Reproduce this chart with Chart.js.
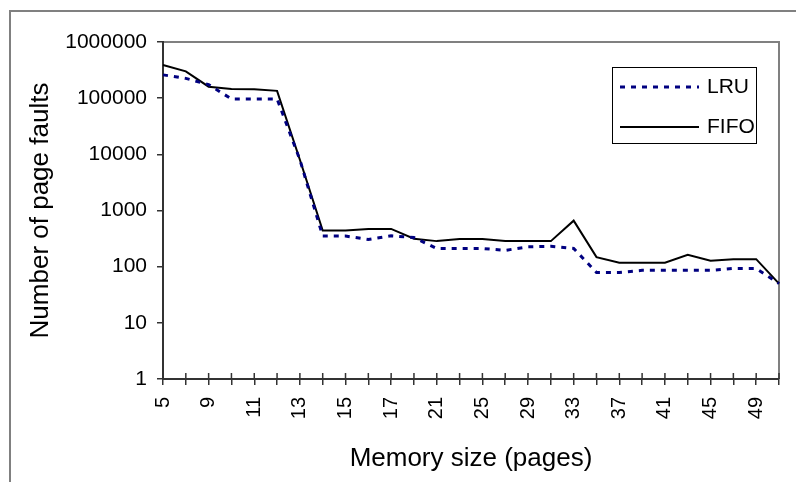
<!DOCTYPE html>
<html>
<head>
<meta charset="utf-8">
<script src="https://cdn.jsdelivr.net/npm/chart.js@4.4.0/dist/chart.umd.min.js"></script>
<style>
  html, body { margin: 0; padding: 0; background: #fff; overflow: hidden; }
  canvas { display: block; }
</style>
</head>
<body>
<canvas id="faultsChart" width="796" height="482"></canvas>
<script>
// memory sizes (pages), only every other one gets a label
const memorySizes = [5, 7, 9, 10, 11, 12, 13, 14, 15, 16, 17, 19, 21, 23, 25, 27, 29, 31, 33, 35, 37, 39, 41, 43, 45, 47, 49, 50];

const lruFaults = [260000, 225000, 174000, 97000, 97000, 97000, 8000, 350, 350, 305, 355, 330, 211, 211, 211, 195, 226, 230, 211, 79, 79, 86, 86, 86, 86, 93, 93, 50];
const fifoFaults = [390000, 300000, 160000, 146000, 144000, 135000, 8000, 440, 440, 470, 470, 315, 285, 310, 310, 285, 285, 285, 660, 148, 118, 118, 118, 163, 127, 136, 136, 50];

const yTicks = [1, 10, 100, 1000, 10000, 100000, 1000000];

const fontFamily = "'Liberation Sans', Arial, sans-serif";

// outer frame + grey top/right edge of the plot area
const frame = {
  id: "frame",
  beforeDraw(chart) {
    const ctx = chart.ctx;
    const a = chart.chartArea;
    ctx.save();
    ctx.strokeStyle = "#808080";
    ctx.lineWidth = 2;
    ctx.beginPath();
    ctx.moveTo(10, chart.height + 5);
    ctx.lineTo(10, 11);
    ctx.lineTo(chart.width + 5, 11);
    ctx.stroke();

    ctx.beginPath();
    ctx.moveTo(a.left, a.top);
    ctx.lineTo(a.right, a.top);
    ctx.lineTo(a.right, a.bottom);
    ctx.stroke();
    ctx.restore();
  },
};

// x ticks cross the axis: draw the inner half
const innerTicks = {
  id: "innerTicks",
  beforeDatasetsDraw(chart) {
    const ctx = chart.ctx;
    const x = chart.scales.x;
    const bottom = chart.chartArea.bottom;
    ctx.save();
    ctx.strokeStyle = "#333";
    ctx.lineWidth = 1.5;
    ctx.beginPath();
    memorySizes.forEach((m, i) => {
      const px = x.getPixelForValue(i);
      ctx.moveTo(px, bottom);
      ctx.lineTo(px, bottom - 6);
    });
    ctx.stroke();
    ctx.restore();
  },
};

// boxed legend inside the plot area
const boxLegend = {
  id: "boxLegend",
  afterDraw(chart) {
    const ctx = chart.ctx;
    const a = chart.chartArea;
    const left = a.right - 167;
    const top = a.top + 25;
    ctx.save();
    ctx.fillStyle = "#fff";
    ctx.fillRect(left, top, 144, 76);
    ctx.strokeStyle = "#000";
    ctx.lineWidth = 1;
    ctx.strokeRect(left + 0.5, top + 0.5, 144, 76);

    chart.data.datasets.forEach((ds, i) => {
      const y = top + 20 + i * 40;
      ctx.beginPath();
      ctx.strokeStyle = ds.borderColor;
      ctx.lineWidth = ds.borderWidth;
      ctx.setLineDash(ds.borderDash || []);
      ctx.moveTo(left + 8, y);
      ctx.lineTo(left + 87, y);
      ctx.stroke();
      ctx.setLineDash([]);

      ctx.fillStyle = "#000";
      ctx.font = "21px " + fontFamily;
      ctx.textBaseline = "middle";
      ctx.fillText(ds.label, left + 95, y);
    });
    ctx.restore();
  },
};

new Chart(document.getElementById("faultsChart"), {
  type: "line",
  data: {
    labels: memorySizes,
    datasets: [
      {
        label: "LRU",
        data: lruFaults,
        borderColor: "#000080",
        borderWidth: 3,
        borderDash: [5, 6],
        pointRadius: 0,
        tension: 0,
      },
      {
        label: "FIFO",
        data: fifoFaults,
        borderColor: "#000",
        borderWidth: 2,
        pointRadius: 0,
        tension: 0,
      },
    ],
  },
  options: {
    responsive: false,
    animation: false,
    layout: {
      padding: { top: 42, right: 17, bottom: 0, left: 10 },
    },
    plugins: {
      legend: { display: false },
      tooltip: { enabled: false },
    },
    scales: {
      x: {
        afterFit: (scale) => {
          scale.height = 103;
          scale.paddingLeft = 0;
          scale.paddingRight = 0;
        },
        grid: {
          drawOnChartArea: false,
          color: "#333",
          lineWidth: 1.5,
          tickLength: 6,
        },
        border: { color: "#333", width: 2 },
        ticks: {
          autoSkip: false,
          minRotation: 90,
          maxRotation: 90,
          padding: 12,
          color: "#000",
          font: { family: fontFamily, size: 20 },
          callback: (value, index) => (index % 2 === 0 ? String(memorySizes[index]) : ""),
        },
        title: {
          display: true,
          text: "Memory size (pages)",
          color: "#000",
          font: { family: fontFamily, size: 26 },
          padding: { top: 0, bottom: 8 },
        },
      },
      y: {
        type: "logarithmic",
        min: 1,
        max: 1000000,
        afterFit: (scale) => {
          scale.width = 153;
          scale.paddingTop = 0;
          scale.paddingBottom = 0;
        },
        afterBuildTicks: (scale) => {
          scale.ticks = yTicks.map((v) => ({ value: v }));
        },
        grid: {
          drawOnChartArea: false,
          color: "#333",
          lineWidth: 1.5,
          tickLength: 6,
        },
        border: { color: "#333", width: 2 },
        ticks: {
          padding: 10,
          color: "#000",
          font: { family: fontFamily, size: 21 },
          callback: (value) => String(value),
        },
        title: {
          display: true,
          text: "Number of page faults",
          color: "#000",
          font: { family: fontFamily, size: 26 },
          padding: { top: 15, bottom: 0 },
        },
      },
    },
  },
  plugins: [frame, innerTicks, boxLegend],
});
</script>
</body>
</html>
